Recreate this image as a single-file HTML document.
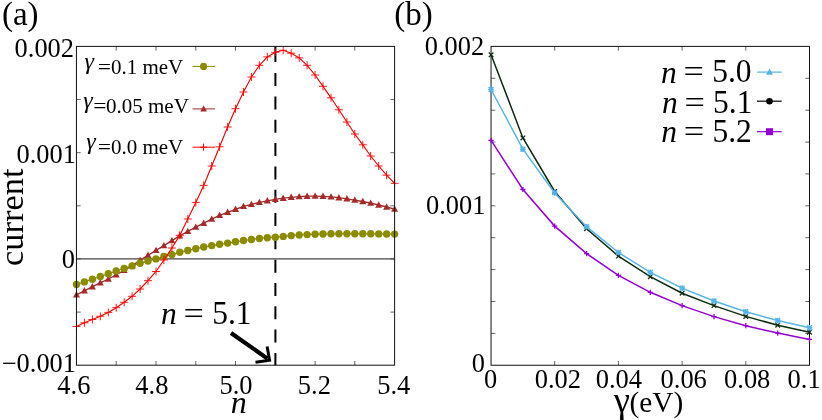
<!DOCTYPE html>
<html><head><meta charset="utf-8"><title>figure</title>
<style>html,body{margin:0;padding:0;background:#fff}body{width:822px;height:420px;overflow:hidden}</style></head>
<body>
<svg width="822" height="420" viewBox="0 0 822 420" style="display:block;will-change:transform;font-family:'Liberation Serif',serif">
<rect width="822" height="420" fill="#fff"/>
<path d="M116.2 365.2v-4.2M116.2 46.4v4.2M156.0 365.2v-4.2M156.0 46.4v4.2M195.8 365.2v-4.2M195.8 46.4v4.2M235.5 365.2v-4.2M235.5 46.4v4.2M275.3 365.2v-4.2M275.3 46.4v4.2M315.1 365.2v-4.2M315.1 46.4v4.2M354.8 365.2v-4.2M354.8 46.4v4.2M76.5 99.5h4.2M394.6 99.5h-4.2M76.5 152.7h4.2M394.6 152.7h-4.2M76.5 205.8h4.2M394.6 205.8h-4.2M76.5 258.9h4.2M394.6 258.9h-4.2M76.5 312.1h4.2M394.6 312.1h-4.2" stroke="#222" stroke-width="0.7" fill="none"/>
<line x1="76.5" y1="258.9" x2="394.6" y2="258.9" stroke="#444" stroke-width="1.1"/>
<path d="M275.4 46.4V62.1M275.4 73.1V86.1M275.4 96.4V109.4M275.4 119.7V132.7M275.4 143.1V156.1M275.4 166.4V179.4M275.4 189.7V202.7M275.4 213.0V226.0M275.4 236.3V249.3M275.4 259.7V272.7M275.4 283.0V296.0M275.4 306.3V319.3M275.4 329.6V342.6M275.4 352.9V365.2" stroke="#000" stroke-width="2" fill="none"/>
<polyline points="76.5,294.8 84.4,290.8 92.4,286.7 100.3,282.8 108.3,279.0 116.2,274.8 124.2,270.4 132.1,265.6 140.1,260.4 148.0,255.2 156.0,250.4 163.9,245.6 171.9,240.6 179.8,235.7 187.8,231.4 195.8,227.1 203.7,223.2 211.7,219.1 219.6,215.4 227.6,212.3 235.5,209.3 243.5,206.4 251.4,204.4 259.4,202.4 267.3,200.8 275.3,199.4 283.2,198.2 291.2,197.3 299.2,196.6 307.1,196.2 315.1,196.1 323.0,196.3 331.0,196.9 338.9,197.7 346.9,198.8 354.8,200.1 362.8,201.5 370.7,203.1 378.7,205.0 386.6,207.0 394.6,209.1" fill="none" stroke="#a52a2a" stroke-width="1.3"/>
<path d="M76.5 291.1L80.0 297.5L73.0 297.5Z" fill="#a52a2a"/>
<path d="M84.4 287.1L87.9 293.5L80.9 293.5Z" fill="#a52a2a"/>
<path d="M92.4 283.0L95.9 289.4L88.9 289.4Z" fill="#a52a2a"/>
<path d="M100.3 279.1L103.8 285.5L96.8 285.5Z" fill="#a52a2a"/>
<path d="M108.3 275.3L111.8 281.7L104.8 281.7Z" fill="#a52a2a"/>
<path d="M116.2 271.1L119.7 277.5L112.7 277.5Z" fill="#a52a2a"/>
<path d="M124.2 266.7L127.7 273.1L120.7 273.1Z" fill="#a52a2a"/>
<path d="M132.1 261.9L135.6 268.3L128.6 268.3Z" fill="#a52a2a"/>
<path d="M140.1 256.7L143.6 263.1L136.6 263.1Z" fill="#a52a2a"/>
<path d="M148.0 251.5L151.5 257.9L144.5 257.9Z" fill="#a52a2a"/>
<path d="M156.0 246.7L159.5 253.1L152.5 253.1Z" fill="#a52a2a"/>
<path d="M163.9 241.9L167.4 248.3L160.4 248.3Z" fill="#a52a2a"/>
<path d="M171.9 236.9L175.4 243.3L168.4 243.3Z" fill="#a52a2a"/>
<path d="M179.8 232.0L183.3 238.4L176.3 238.4Z" fill="#a52a2a"/>
<path d="M187.8 227.7L191.3 234.1L184.3 234.1Z" fill="#a52a2a"/>
<path d="M195.8 223.4L199.3 229.8L192.3 229.8Z" fill="#a52a2a"/>
<path d="M203.7 219.5L207.2 225.9L200.2 225.9Z" fill="#a52a2a"/>
<path d="M211.7 215.4L215.2 221.8L208.2 221.8Z" fill="#a52a2a"/>
<path d="M219.6 211.7L223.1 218.1L216.1 218.1Z" fill="#a52a2a"/>
<path d="M227.6 208.6L231.1 215.0L224.1 215.0Z" fill="#a52a2a"/>
<path d="M235.5 205.6L239.0 212.0L232.0 212.0Z" fill="#a52a2a"/>
<path d="M243.5 202.7L247.0 209.1L240.0 209.1Z" fill="#a52a2a"/>
<path d="M251.4 200.7L254.9 207.1L247.9 207.1Z" fill="#a52a2a"/>
<path d="M259.4 198.7L262.9 205.1L255.9 205.1Z" fill="#a52a2a"/>
<path d="M267.3 197.1L270.8 203.5L263.8 203.5Z" fill="#a52a2a"/>
<path d="M275.3 195.7L278.8 202.1L271.8 202.1Z" fill="#a52a2a"/>
<path d="M283.2 194.5L286.7 200.9L279.7 200.9Z" fill="#a52a2a"/>
<path d="M291.2 193.6L294.7 200.0L287.7 200.0Z" fill="#a52a2a"/>
<path d="M299.2 192.9L302.7 199.3L295.7 199.3Z" fill="#a52a2a"/>
<path d="M307.1 192.5L310.6 198.9L303.6 198.9Z" fill="#a52a2a"/>
<path d="M315.1 192.4L318.6 198.8L311.6 198.8Z" fill="#a52a2a"/>
<path d="M323.0 192.6L326.5 199.0L319.5 199.0Z" fill="#a52a2a"/>
<path d="M331.0 193.2L334.5 199.6L327.5 199.6Z" fill="#a52a2a"/>
<path d="M338.9 194.0L342.4 200.4L335.4 200.4Z" fill="#a52a2a"/>
<path d="M346.9 195.1L350.4 201.5L343.4 201.5Z" fill="#a52a2a"/>
<path d="M354.8 196.4L358.3 202.8L351.3 202.8Z" fill="#a52a2a"/>
<path d="M362.8 197.8L366.3 204.2L359.3 204.2Z" fill="#a52a2a"/>
<path d="M370.7 199.4L374.2 205.8L367.2 205.8Z" fill="#a52a2a"/>
<path d="M378.7 201.3L382.2 207.7L375.2 207.7Z" fill="#a52a2a"/>
<path d="M386.6 203.3L390.1 209.7L383.1 209.7Z" fill="#a52a2a"/>
<path d="M394.6 205.4L398.1 211.8L391.1 211.8Z" fill="#a52a2a"/>
<polyline points="76.5,284.5 84.4,281.9 92.4,279.2 100.3,276.5 108.3,273.7 116.2,271.0 124.2,268.4 132.1,265.9 140.1,263.3 148.0,261.0 156.0,258.9 163.9,256.5 171.9,254.6 179.8,252.2 187.8,250.5 195.8,248.7 203.7,247.0 211.7,245.6 219.6,244.3 227.6,243.1 235.5,241.8 243.5,240.5 251.4,239.5 259.4,238.5 267.3,237.7 275.3,237.2 283.2,236.4 291.2,235.6 299.2,235.0 307.1,234.6 315.1,234.2 323.0,234.0 331.0,233.8 338.9,233.7 346.9,233.7 354.8,233.7 362.8,233.7 370.7,233.8 378.7,233.9 386.6,234.0 394.6,234.1" fill="none" stroke="#8b8b00" stroke-width="1.2"/>
<circle cx="76.5" cy="284.5" r="3.7" fill="#8b8b00"/>
<circle cx="84.4" cy="281.9" r="3.7" fill="#8b8b00"/>
<circle cx="92.4" cy="279.2" r="3.7" fill="#8b8b00"/>
<circle cx="100.3" cy="276.5" r="3.7" fill="#8b8b00"/>
<circle cx="108.3" cy="273.7" r="3.7" fill="#8b8b00"/>
<circle cx="116.2" cy="271.0" r="3.7" fill="#8b8b00"/>
<circle cx="124.2" cy="268.4" r="3.7" fill="#8b8b00"/>
<circle cx="132.1" cy="265.9" r="3.7" fill="#8b8b00"/>
<circle cx="140.1" cy="263.3" r="3.7" fill="#8b8b00"/>
<circle cx="148.0" cy="261.0" r="3.7" fill="#8b8b00"/>
<circle cx="156.0" cy="258.9" r="3.7" fill="#8b8b00"/>
<circle cx="163.9" cy="256.5" r="3.7" fill="#8b8b00"/>
<circle cx="171.9" cy="254.6" r="3.7" fill="#8b8b00"/>
<circle cx="179.8" cy="252.2" r="3.7" fill="#8b8b00"/>
<circle cx="187.8" cy="250.5" r="3.7" fill="#8b8b00"/>
<circle cx="195.8" cy="248.7" r="3.7" fill="#8b8b00"/>
<circle cx="203.7" cy="247.0" r="3.7" fill="#8b8b00"/>
<circle cx="211.7" cy="245.6" r="3.7" fill="#8b8b00"/>
<circle cx="219.6" cy="244.3" r="3.7" fill="#8b8b00"/>
<circle cx="227.6" cy="243.1" r="3.7" fill="#8b8b00"/>
<circle cx="235.5" cy="241.8" r="3.7" fill="#8b8b00"/>
<circle cx="243.5" cy="240.5" r="3.7" fill="#8b8b00"/>
<circle cx="251.4" cy="239.5" r="3.7" fill="#8b8b00"/>
<circle cx="259.4" cy="238.5" r="3.7" fill="#8b8b00"/>
<circle cx="267.3" cy="237.7" r="3.7" fill="#8b8b00"/>
<circle cx="275.3" cy="237.2" r="3.7" fill="#8b8b00"/>
<circle cx="283.2" cy="236.4" r="3.7" fill="#8b8b00"/>
<circle cx="291.2" cy="235.6" r="3.7" fill="#8b8b00"/>
<circle cx="299.2" cy="235.0" r="3.7" fill="#8b8b00"/>
<circle cx="307.1" cy="234.6" r="3.7" fill="#8b8b00"/>
<circle cx="315.1" cy="234.2" r="3.7" fill="#8b8b00"/>
<circle cx="323.0" cy="234.0" r="3.7" fill="#8b8b00"/>
<circle cx="331.0" cy="233.8" r="3.7" fill="#8b8b00"/>
<circle cx="338.9" cy="233.7" r="3.7" fill="#8b8b00"/>
<circle cx="346.9" cy="233.7" r="3.7" fill="#8b8b00"/>
<circle cx="354.8" cy="233.7" r="3.7" fill="#8b8b00"/>
<circle cx="362.8" cy="233.7" r="3.7" fill="#8b8b00"/>
<circle cx="370.7" cy="233.8" r="3.7" fill="#8b8b00"/>
<circle cx="378.7" cy="233.9" r="3.7" fill="#8b8b00"/>
<circle cx="386.6" cy="234.0" r="3.7" fill="#8b8b00"/>
<circle cx="394.6" cy="234.1" r="3.7" fill="#8b8b00"/>
<polyline points="76.5,326.5 84.4,322.8 92.4,319.5 100.3,316.3 108.3,312.4 116.2,307.7 124.2,302.3 132.1,296.3 140.1,289.0 148.0,280.7 156.0,271.5 163.9,260.0 171.9,248.0 179.8,235.3 187.8,219.0 195.8,202.6 203.7,185.4 211.7,166.0 219.6,146.8 227.6,127.0 235.5,108.7 243.5,92.0 251.4,77.0 259.4,65.3 267.3,56.9 275.3,52.3 283.2,50.3 291.2,53.2 299.2,57.9 307.1,65.3 315.1,75.0 323.0,86.3 331.0,97.8 338.9,109.8 346.9,122.0 354.8,134.0 362.8,144.8 370.7,156.0 378.7,166.0 386.6,175.2 394.6,183.3" fill="none" stroke="#ff0000" stroke-width="1.15"/>
<path d="M72.5 326.5H80.5M76.5 322.5V330.5" stroke="#ff0000" stroke-width="0.9" fill="none"/>
<path d="M80.4 322.8H88.4M84.4 318.8V326.8" stroke="#ff0000" stroke-width="0.9" fill="none"/>
<path d="M88.4 319.5H96.4M92.4 315.5V323.5" stroke="#ff0000" stroke-width="0.9" fill="none"/>
<path d="M96.3 316.3H104.3M100.3 312.3V320.3" stroke="#ff0000" stroke-width="0.9" fill="none"/>
<path d="M104.3 312.4H112.3M108.3 308.4V316.4" stroke="#ff0000" stroke-width="0.9" fill="none"/>
<path d="M112.2 307.7H120.2M116.2 303.7V311.7" stroke="#ff0000" stroke-width="0.9" fill="none"/>
<path d="M120.2 302.3H128.2M124.2 298.3V306.3" stroke="#ff0000" stroke-width="0.9" fill="none"/>
<path d="M128.1 296.3H136.1M132.1 292.3V300.3" stroke="#ff0000" stroke-width="0.9" fill="none"/>
<path d="M136.1 289.0H144.1M140.1 285.0V293.0" stroke="#ff0000" stroke-width="0.9" fill="none"/>
<path d="M144.0 280.7H152.0M148.0 276.7V284.7" stroke="#ff0000" stroke-width="0.9" fill="none"/>
<path d="M152.0 271.5H160.0M156.0 267.5V275.5" stroke="#ff0000" stroke-width="0.9" fill="none"/>
<path d="M159.9 260.0H167.9M163.9 256.0V264.0" stroke="#ff0000" stroke-width="0.9" fill="none"/>
<path d="M167.9 248.0H175.9M171.9 244.0V252.0" stroke="#ff0000" stroke-width="0.9" fill="none"/>
<path d="M175.8 235.3H183.8M179.8 231.3V239.3" stroke="#ff0000" stroke-width="0.9" fill="none"/>
<path d="M183.8 219.0H191.8M187.8 215.0V223.0" stroke="#ff0000" stroke-width="0.9" fill="none"/>
<path d="M191.8 202.6H199.8M195.8 198.6V206.6" stroke="#ff0000" stroke-width="0.9" fill="none"/>
<path d="M199.7 185.4H207.7M203.7 181.4V189.4" stroke="#ff0000" stroke-width="0.9" fill="none"/>
<path d="M207.7 166.0H215.7M211.7 162.0V170.0" stroke="#ff0000" stroke-width="0.9" fill="none"/>
<path d="M215.6 146.8H223.6M219.6 142.8V150.8" stroke="#ff0000" stroke-width="0.9" fill="none"/>
<path d="M223.6 127.0H231.6M227.6 123.0V131.0" stroke="#ff0000" stroke-width="0.9" fill="none"/>
<path d="M231.5 108.7H239.5M235.5 104.7V112.7" stroke="#ff0000" stroke-width="0.9" fill="none"/>
<path d="M239.5 92.0H247.5M243.5 88.0V96.0" stroke="#ff0000" stroke-width="0.9" fill="none"/>
<path d="M247.4 77.0H255.4M251.4 73.0V81.0" stroke="#ff0000" stroke-width="0.9" fill="none"/>
<path d="M255.4 65.3H263.4M259.4 61.3V69.3" stroke="#ff0000" stroke-width="0.9" fill="none"/>
<path d="M263.3 56.9H271.3M267.3 52.9V60.9" stroke="#ff0000" stroke-width="0.9" fill="none"/>
<path d="M271.3 52.3H279.3M275.3 48.3V56.3" stroke="#ff0000" stroke-width="0.9" fill="none"/>
<path d="M279.2 50.3H287.2M283.2 46.3V54.3" stroke="#ff0000" stroke-width="0.9" fill="none"/>
<path d="M287.2 53.2H295.2M291.2 49.2V57.2" stroke="#ff0000" stroke-width="0.9" fill="none"/>
<path d="M295.2 57.9H303.2M299.2 53.9V61.9" stroke="#ff0000" stroke-width="0.9" fill="none"/>
<path d="M303.1 65.3H311.1M307.1 61.3V69.3" stroke="#ff0000" stroke-width="0.9" fill="none"/>
<path d="M311.1 75.0H319.1M315.1 71.0V79.0" stroke="#ff0000" stroke-width="0.9" fill="none"/>
<path d="M319.0 86.3H327.0M323.0 82.3V90.3" stroke="#ff0000" stroke-width="0.9" fill="none"/>
<path d="M327.0 97.8H335.0M331.0 93.8V101.8" stroke="#ff0000" stroke-width="0.9" fill="none"/>
<path d="M334.9 109.8H342.9M338.9 105.8V113.8" stroke="#ff0000" stroke-width="0.9" fill="none"/>
<path d="M342.9 122.0H350.9M346.9 118.0V126.0" stroke="#ff0000" stroke-width="0.9" fill="none"/>
<path d="M350.8 134.0H358.8M354.8 130.0V138.0" stroke="#ff0000" stroke-width="0.9" fill="none"/>
<path d="M358.8 144.8H366.8M362.8 140.8V148.8" stroke="#ff0000" stroke-width="0.9" fill="none"/>
<path d="M366.7 156.0H374.7M370.7 152.0V160.0" stroke="#ff0000" stroke-width="0.9" fill="none"/>
<path d="M374.7 166.0H382.7M378.7 162.0V170.0" stroke="#ff0000" stroke-width="0.9" fill="none"/>
<path d="M382.6 175.2H390.6M386.6 171.2V179.2" stroke="#ff0000" stroke-width="0.9" fill="none"/>
<path d="M390.6 183.3H398.6M394.6 179.3V187.3" stroke="#ff0000" stroke-width="0.9" fill="none"/>
<rect x="76.45" y="46.40" width="318.15" height="318.80" fill="none" stroke="#111" stroke-width="1.0"/>
<line x1="192.5" y1="66.4" x2="215" y2="66.4" stroke="#8b8b00" stroke-width="1"/>
<circle cx="203.6" cy="66.4" r="3.6" fill="#8b8b00"/>
<line x1="192.5" y1="108.9" x2="215" y2="108.9" stroke="#a52a2a" stroke-width="1"/>
<path d="M203.6 105.3L206.9 111.5L200.3 111.5Z" fill="#a52a2a"/>
<line x1="192.5" y1="147.2" x2="215" y2="147.2" stroke="#ff0000" stroke-width="1"/>
<path d="M199.9 147.2H207.1M203.5 143.6V150.8" stroke="#ff0000" stroke-width="1.0" fill="none"/>
<path d="M231 333L267.5 358.6" stroke="#000" stroke-width="4.2" fill="none"/>
<path d="M267.1 346.5L269.6 360.2L255.5 362.2" stroke="#000" stroke-width="3" fill="none" stroke-linejoin="miter"/>
<text x="1.9" y="25.0" font-size="33px" >(a)</text>
<text x="14.6" y="57.1" font-size="26.4px"  transform="translate(0,57.1) scale(1,1.035) translate(0,-57.1)">0.002</text>
<text x="16.5" y="163.1" font-size="26.4px"  transform="translate(0,163.1) scale(1,1.035) translate(0,-163.1)">0.001</text>
<text x="61.8" y="267.6" font-size="26.4px"  transform="translate(0,267.6) scale(1,1.035) translate(0,-267.6)">0</text>
<text x="16.6" y="372.1" font-size="26.4px"  transform="translate(0,372.1) scale(1,1.035) translate(0,-372.1)">0.001</text>
<text x="2.0" y="372.1" font-size="26.4px" >−</text>
<text x="73.9" y="394.5" font-size="26.5px" text-anchor="middle" transform="translate(0,394.5) scale(1,1.035) translate(0,-394.5)">4.6</text>
<text x="151.9" y="394.5" font-size="26.5px" text-anchor="middle" transform="translate(0,394.5) scale(1,1.035) translate(0,-394.5)">4.8</text>
<text x="236.0" y="394.5" font-size="26.5px" text-anchor="middle" transform="translate(0,394.5) scale(1,1.035) translate(0,-394.5)">5.0</text>
<text x="314.4" y="394.5" font-size="26.5px" text-anchor="middle" transform="translate(0,394.5) scale(1,1.035) translate(0,-394.5)">5.2</text>
<text x="393.7" y="394.5" font-size="26.5px" text-anchor="middle" transform="translate(0,394.5) scale(1,1.035) translate(0,-394.5)">5.4</text>
<text x="230.8" y="412.6" font-size="32px" font-style="italic">n</text>
<text transform="translate(22.7,265.9) rotate(-90)" font-size="34.4px">current</text>
<text x="161.0" y="324.4" font-size="31.5px" font-style="italic">n</text><text x="183.8" y="324.4" font-size="31.5px" transform="translate(185.4,0) scale(1.15,1) translate(-185.4,0)">=</text><text x="212.2" y="324.4" font-size="31.5px" transform="translate(0,324.4) scale(1,1.04) translate(0,-324.4)">5.1</text>
<text x="84.4" y="68.9" font-size="24px" font-style="italic">γ</text><text x="97.8" y="74.2" font-size="21px" transform="translate(97.8,0) scale(1.12,1) translate(-97.8,0)">=</text><text x="110.9" y="74.2" font-size="21px">0.1 meV</text>
<text x="83.3" y="107.8" font-size="24px" font-style="italic">γ</text><text x="93.2" y="113.1" font-size="21px" transform="translate(93.2,0) scale(1.12,1) translate(-93.2,0)">=</text><text x="106.0" y="113.1" font-size="21px">0.05 meV</text>
<text x="86.2" y="149.0" font-size="24px" font-style="italic">γ</text><text x="97.8" y="154.3" font-size="21px" transform="translate(97.8,0) scale(1.12,1) translate(-97.8,0)">=</text><text x="110.9" y="154.3" font-size="21px">0.0 meV</text>
<path d="M554.7 365.2v-4.2M554.7 46.4v4.2M618.4 365.2v-4.2M618.4 46.4v4.2M682.1 365.2v-4.2M682.1 46.4v4.2M745.8 365.2v-4.2M745.8 46.4v4.2M491.1 78.3h4.2M809.5 78.3h-4.2M491.1 110.2h4.2M809.5 110.2h-4.2M491.1 142.1h4.2M809.5 142.1h-4.2M491.1 173.9h4.2M809.5 173.9h-4.2M491.1 205.8h4.2M809.5 205.8h-4.2M491.1 237.7h4.2M809.5 237.7h-4.2M491.1 269.6h4.2M809.5 269.6h-4.2M491.1 301.5h4.2M809.5 301.5h-4.2M491.1 333.4h4.2M809.5 333.4h-4.2" stroke="#222" stroke-width="0.7" fill="none"/>
<rect x="491.05" y="46.40" width="318.45" height="318.85" fill="none" stroke="#111" stroke-width="1.0"/>
<polyline points="491.1,140.4 522.9,189.5 554.7,226.1 586.6,253.6 618.4,275.4 650.3,292.3 682.1,305.6 714.0,316.6 745.8,325.7 777.7,333.1 809.5,339.4" fill="none" stroke="#9400d3" stroke-width="1.5"/>
<path d="M488.4 140.4H493.7M491.1 137.8V143.0" stroke="#9400d3" stroke-width="1.3" fill="none"/>
<path d="M520.3 189.5H525.5M522.9 186.9V192.1" stroke="#9400d3" stroke-width="1.3" fill="none"/>
<path d="M552.1 226.1H557.3M554.7 223.5V228.7" stroke="#9400d3" stroke-width="1.3" fill="none"/>
<path d="M584.0 253.6H589.2M586.6 251.0V256.2" stroke="#9400d3" stroke-width="1.3" fill="none"/>
<path d="M615.8 275.4H621.0M618.4 272.8V278.0" stroke="#9400d3" stroke-width="1.3" fill="none"/>
<path d="M647.7 292.3H652.9M650.3 289.7V294.9" stroke="#9400d3" stroke-width="1.3" fill="none"/>
<path d="M679.5 305.6H684.7M682.1 303.0V308.2" stroke="#9400d3" stroke-width="1.3" fill="none"/>
<path d="M711.4 316.6H716.6M714.0 314.0V319.2" stroke="#9400d3" stroke-width="1.3" fill="none"/>
<path d="M743.2 325.7H748.4M745.8 323.1V328.3" stroke="#9400d3" stroke-width="1.3" fill="none"/>
<path d="M775.1 333.1H780.3M777.7 330.5V335.7" stroke="#9400d3" stroke-width="1.3" fill="none"/>
<path d="M806.9 339.4H812.1M809.5 336.8V342.0" stroke="#9400d3" stroke-width="1.3" fill="none"/>
<polyline points="491.1,54.8 522.9,137.9 554.7,191.5 586.6,228.7 618.4,256.1 650.3,276.7 682.1,293.2 714.0,305.6 745.8,316.4 777.7,325.2 809.5,332.2" fill="none" stroke="#0d2b0d" stroke-width="1.5"/>
<path d="M488.8 52.5L493.4 57.1M488.8 57.1L493.4 52.5" stroke="#0d2b0d" stroke-width="1.3" fill="none"/>
<path d="M520.6 135.6L525.2 140.2M520.6 140.2L525.2 135.6" stroke="#0d2b0d" stroke-width="1.3" fill="none"/>
<path d="M552.4 189.2L557.0 193.8M552.4 193.8L557.0 189.2" stroke="#0d2b0d" stroke-width="1.3" fill="none"/>
<path d="M584.3 226.4L588.9 231.0M584.3 231.0L588.9 226.4" stroke="#0d2b0d" stroke-width="1.3" fill="none"/>
<path d="M616.1 253.8L620.7 258.4M616.1 258.4L620.7 253.8" stroke="#0d2b0d" stroke-width="1.3" fill="none"/>
<path d="M648.0 274.4L652.6 279.0M648.0 279.0L652.6 274.4" stroke="#0d2b0d" stroke-width="1.3" fill="none"/>
<path d="M679.8 290.9L684.4 295.5M679.8 295.5L684.4 290.9" stroke="#0d2b0d" stroke-width="1.3" fill="none"/>
<path d="M711.7 303.3L716.3 307.9M711.7 307.9L716.3 303.3" stroke="#0d2b0d" stroke-width="1.3" fill="none"/>
<path d="M743.5 314.1L748.1 318.7M743.5 318.7L748.1 314.1" stroke="#0d2b0d" stroke-width="1.3" fill="none"/>
<path d="M775.4 322.9L780.0 327.5M775.4 327.5L780.0 322.9" stroke="#0d2b0d" stroke-width="1.3" fill="none"/>
<path d="M807.2 329.9L811.8 334.5M807.2 334.5L811.8 329.9" stroke="#0d2b0d" stroke-width="1.3" fill="none"/>
<polyline points="491.1,89.5 522.9,149.2 554.7,192.9 586.6,226.7 618.4,252.5 650.3,272.4 682.1,288.1 714.0,301.0 745.8,311.7 777.7,320.5 809.5,327.7" fill="none" stroke="#56b4e9" stroke-width="1.5"/>
<path d="M488.7 87.1L493.4 91.9M488.7 91.9L493.4 87.1" stroke="#56b4e9" stroke-width="1.5" fill="none"/>
<path d="M488.2 89.5H493.9M491.1 86.7V92.3" stroke="#56b4e9" stroke-width="1.5" fill="none"/>
<path d="M520.5 146.8L525.3 151.6M520.5 151.6L525.3 146.8" stroke="#56b4e9" stroke-width="1.5" fill="none"/>
<path d="M520.1 149.2H525.7M522.9 146.4V152.0" stroke="#56b4e9" stroke-width="1.5" fill="none"/>
<path d="M552.3 190.5L557.1 195.3M552.3 195.3L557.1 190.5" stroke="#56b4e9" stroke-width="1.5" fill="none"/>
<path d="M551.9 192.9H557.5M554.7 190.1V195.7" stroke="#56b4e9" stroke-width="1.5" fill="none"/>
<path d="M584.2 224.3L589.0 229.1M584.2 229.1L589.0 224.3" stroke="#56b4e9" stroke-width="1.5" fill="none"/>
<path d="M583.8 226.7H589.4M586.6 223.9V229.5" stroke="#56b4e9" stroke-width="1.5" fill="none"/>
<path d="M616.0 250.1L620.8 254.9M616.0 254.9L620.8 250.1" stroke="#56b4e9" stroke-width="1.5" fill="none"/>
<path d="M615.6 252.5H621.2M618.4 249.7V255.3" stroke="#56b4e9" stroke-width="1.5" fill="none"/>
<path d="M647.9 270.0L652.7 274.8M647.9 274.8L652.7 270.0" stroke="#56b4e9" stroke-width="1.5" fill="none"/>
<path d="M647.5 272.4H653.1M650.3 269.6V275.2" stroke="#56b4e9" stroke-width="1.5" fill="none"/>
<path d="M679.7 285.7L684.5 290.5M679.7 290.5L684.5 285.7" stroke="#56b4e9" stroke-width="1.5" fill="none"/>
<path d="M679.3 288.1H684.9M682.1 285.3V290.9" stroke="#56b4e9" stroke-width="1.5" fill="none"/>
<path d="M711.6 298.6L716.4 303.4M711.6 303.4L716.4 298.6" stroke="#56b4e9" stroke-width="1.5" fill="none"/>
<path d="M711.2 301.0H716.8M714.0 298.2V303.8" stroke="#56b4e9" stroke-width="1.5" fill="none"/>
<path d="M743.4 309.3L748.2 314.1M743.4 314.1L748.2 309.3" stroke="#56b4e9" stroke-width="1.5" fill="none"/>
<path d="M743.0 311.7H748.6M745.8 308.9V314.5" stroke="#56b4e9" stroke-width="1.5" fill="none"/>
<path d="M775.3 318.1L780.1 322.9M775.3 322.9L780.1 318.1" stroke="#56b4e9" stroke-width="1.5" fill="none"/>
<path d="M774.9 320.5H780.5M777.7 317.7V323.3" stroke="#56b4e9" stroke-width="1.5" fill="none"/>
<path d="M807.1 325.3L811.9 330.1M807.1 330.1L811.9 325.3" stroke="#56b4e9" stroke-width="1.5" fill="none"/>
<path d="M806.7 327.7H812.3M809.5 324.9V330.5" stroke="#56b4e9" stroke-width="1.5" fill="none"/>
<line x1="757" y1="72.1" x2="781.7" y2="72.1" stroke="#56b4e9" stroke-width="1.2"/>
<path d="M769.5 68.4L773.0 74.8L766.0 74.8Z" fill="#56b4e9"/>
<line x1="757" y1="101.2" x2="781.7" y2="101.2" stroke="#000" stroke-width="1.2"/>
<circle cx="769.5" cy="101.2" r="3.3" fill="#000"/>
<line x1="757" y1="131.7" x2="781.7" y2="131.7" stroke="#9400d3" stroke-width="1.2"/>
<rect x="766" y="128.2" width="7" height="7" fill="#9400d3"/>
<text x="661.0" y="82.5" font-size="31.5px" font-style="italic">n</text><text x="683.8" y="82.5" font-size="31.5px" transform="translate(685.4,0) scale(1.15,1) translate(-685.4,0)">=</text><text x="712.2" y="82.5" font-size="31.5px" transform="translate(0,82.5) scale(1,1.04) translate(0,-82.5)">5.0</text>
<text x="661.9" y="113.4" font-size="31.5px" font-style="italic">n</text><text x="684.7" y="113.4" font-size="31.5px" transform="translate(686.3,0) scale(1.15,1) translate(-686.3,0)">=</text><text x="713.1" y="113.4" font-size="31.5px" transform="translate(0,113.4) scale(1,1.04) translate(0,-113.4)">5.1</text>
<text x="661.3" y="142.1" font-size="31.5px" font-style="italic">n</text><text x="684.1" y="142.1" font-size="31.5px" transform="translate(685.7,0) scale(1.15,1) translate(-685.7,0)">=</text><text x="712.5" y="142.1" font-size="31.5px" transform="translate(0,142.1) scale(1,1.04) translate(0,-142.1)">5.2</text>
<text x="394.3" y="25.0" font-size="33px" >(b)</text>
<text x="424.7" y="54.8" font-size="26.4px"  transform="translate(0,54.8) scale(1,1.035) translate(0,-54.8)">0.002</text>
<text x="426.0" y="213.6" font-size="26.4px"  transform="translate(0,213.6) scale(1,1.035) translate(0,-213.6)">0.001</text>
<text x="471.7" y="372.5" font-size="26.4px"  transform="translate(0,372.5) scale(1,1.035) translate(0,-372.5)">0</text>
<text x="483.9" y="388.2" font-size="26.4px"  transform="translate(0,388.2) scale(1,1.035) translate(0,-388.2)">0</text>
<text x="557.9" y="387.9" font-size="26.5px" text-anchor="middle" transform="translate(0,387.9) scale(1,1.035) translate(0,-387.9)">0.02</text>
<text x="618.9" y="387.9" font-size="26.5px" text-anchor="middle" transform="translate(0,387.9) scale(1,1.035) translate(0,-387.9)">0.04</text>
<text x="683.7" y="387.9" font-size="26.5px" text-anchor="middle" transform="translate(0,387.9) scale(1,1.035) translate(0,-387.9)">0.06</text>
<text x="747.2" y="387.9" font-size="26.5px" text-anchor="middle" transform="translate(0,387.9) scale(1,1.035) translate(0,-387.9)">0.08</text>
<text x="804.1" y="387.9" font-size="26.5px" text-anchor="middle" transform="translate(0,387.9) scale(1,1.035) translate(0,-387.9)">0.1</text>
<text x="613.7" y="412.0" font-size="36.6px" >γ</text>
<text x="629.5" y="412.0" font-size="29.3px" >(eV)</text>
</svg>
</body></html>
